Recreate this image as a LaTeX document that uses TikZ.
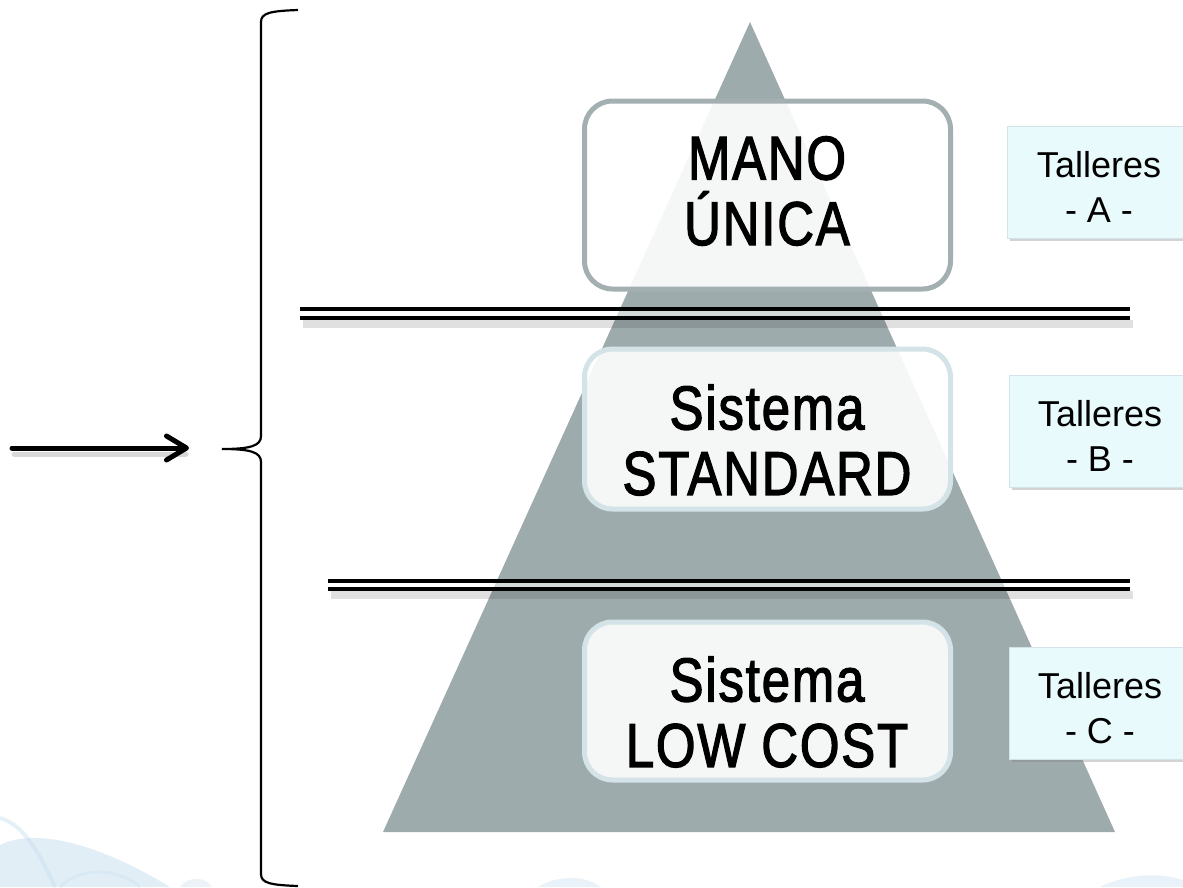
\documentclass[tikz,border=0pt]{standalone}
\usepackage{fontspec}
\setmainfont{Liberation Sans}
\newfontfamily\narrowfont[FakeStretch=0.82, FakeBold=2, LetterSpace=3]{Liberation Sans}
\usetikzlibrary{shadows,arrows.meta}
\definecolor{pyr}{HTML}{9EABAC}
\definecolor{topedge}{HTML}{A3AFB1}
\definecolor{lowedge}{HTML}{D3E3E8}
\definecolor{tallfill}{HTML}{E9FAFC}
\definecolor{talledge}{HTML}{D2E4E7}
\definecolor{swirl}{HTML}{C6DEEE}
\tikzset{
  levelbox/.style={rounded corners=28pt, line width=5pt, fill=white, fill opacity=0.9,
    minimum width=366pt},
  leveltext/.style={align=center, font=\narrowfont\fontsize{62}{65.5}\selectfont, inner sep=0pt},
  tallbox/.style={draw=talledge, line width=1pt, fill=tallfill, minimum width=192pt, minimum height=112pt,
    drop shadow={shadow xshift=3pt, shadow yshift=-3pt, opacity=0.35}},
  talltext/.style={align=center, font=\fontsize{36}{45}\selectfont, inner sep=0pt},
  sepline/.style={line width=4pt, black},
}
\begin{document}
\begin{tikzpicture}[x=1pt,y=-1pt]
\useasboundingbox (0,0) rectangle (1183,887);
\clip (0,0) rectangle (1183,887);
% faint background swirl (decoration)
\fill[swirl, opacity=0.5] (0,845) .. controls (40,825) and (110,850) .. (170,887) -- (0,887) -- cycle;
\draw[swirl, line width=4pt, opacity=0.45] (0,818) .. controls (25,825) and (40,855) .. (55,887);
\draw[swirl, line width=3pt, opacity=0.35] (60,887) .. controls (80,866) and (120,868) .. (140,887);
\fill[swirl, opacity=0.35] (180,887) .. controls (188,876) and (205,876) .. (212,887) -- cycle;
\fill[swirl, opacity=0.4] (538,887) .. controls (555,876) and (585,874) .. (600,887) -- cycle;
\fill[swirl, opacity=0.4] (1100,887) .. controls (1125,874) and (1160,872) .. (1183,880) -- (1183,887) -- cycle;
% pyramid
\fill[pyr] (750,22) -- (1115,832) -- (383,832) -- cycle;
% level boxes
\node[levelbox, draw=topedge, minimum height=188pt] (mano) at (767.5,195) {};
\node[levelbox, draw=lowedge, minimum height=160pt] (std) at (767.5,429) {};
\node[levelbox, draw=lowedge, minimum height=158pt] (low) at (767.5,701) {};
\node[leveltext] (manot) at (767,191) {MANO\\ÚNICA};
\node[leveltext] (stdt) at (767,440) {Sistema\\STANDARD};
\node[leveltext] (lowt) at (767,712) {Sistema\\LOW COST};
% separators
\fill[black, opacity=0.12] (303,320) rectangle (1133,328);
\fill[white, opacity=0.55] (300,311) rectangle (1130,316);
\draw[sepline] (300,309) -- (1130,309);
\draw[sepline] (300,318) -- (1130,318);
\fill[black, opacity=0.12] (331,591) rectangle (1133,599);
\fill[white, opacity=0.55] (328,583) rectangle (1130,587);
\draw[sepline] (328,581) -- (1130,581);
\draw[sepline] (328,589) -- (1130,589);
% workshop boxes
\node[tallbox] (ta) at (1103,182) {};
\node[tallbox] (tb) at (1105,431) {};
\node[tallbox] (tc) at (1105,703) {};
\node[talltext] (tat) at (1099,187) {Talleres\\- A -};
\node[talltext] (tbt) at (1100,436) {Talleres\\- B -};
\node[talltext] (tct) at (1100,708) {Talleres\\- C -};
% brace
\coordinate (btop) at (298,10);
\coordinate (bmid) at (222,449);
\coordinate (bbot) at (298,886);
\draw[line width=2.2pt] (btop) .. controls (270,11) and (261,13) .. (261,22)
  -- (261,436) .. controls (261,446) and (250,449) .. (bmid)
  .. controls (250,449) and (261,452) .. (261,462)
  -- (261,874) .. controls (261,883) and (270,885) .. (bbot);
% arrow
\coordinate (astart) at (12,448);
\coordinate (aend) at (189,448);
\draw[black, opacity=0.15, line width=5pt, line cap=round] (14,454) -- (186,454);
\draw[line width=5pt, line cap=round, -{Straight Barb[length=20pt 0 0, width=24pt 0 0, line cap=round, line join=round]}] (astart) -- (aend);
\end{tikzpicture}
\end{document}
